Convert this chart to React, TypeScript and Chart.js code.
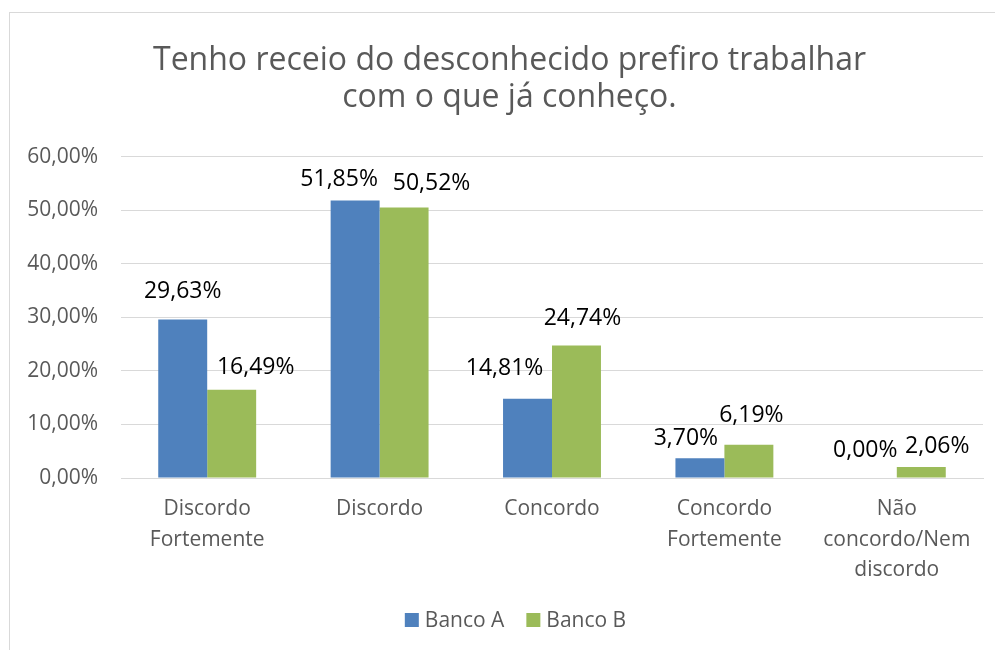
import { useEffect, useRef } from 'react';
import { Chart, registerables } from 'chart.js';

Chart.register(...registerables);

const titleLines = ['Tenho receio do desconhecido prefiro trabalhar', 'com o que já conheço.'];
const categories: (string | string[])[] = [
  ['Discordo', 'Fortemente'],
  'Discordo',
  'Concordo',
  ['Concordo', 'Fortemente'],
  ['Não', 'concordo/Nem', 'discordo'],
];
const seriesNames = ['Banco A', 'Banco B'];
const bancoA = [29.63, 51.85, 14.81, 3.7, 0.0];
const bancoB = [16.49, 50.52, 24.74, 6.19, 2.06];
const yMin = 0;
const yMax = 60;
const yStep = 10;

// label nudges (dx, dy) relative to bar top centre, as placed in the original
const labelNudgeA = [[0, -28], [-16, -21.5], [-23, -30], [-14, -20], [-7, -28]];
const labelNudgeB = [[24, -22], [27.5, -24.6], [6, -27], [2.5, -29], [16, -21]];

const FONT = '"Open Sans", "DejaVu Sans", sans-serif';
const fmtPct = (v: number) => v.toFixed(2).replace('.', ',') + '%';

const dataLabelsPlugin = {
  id: 'dataLabelsCustom',
  afterDatasetsDraw(chart: any) {
    const ctx = chart.ctx;
    const nudges = [labelNudgeA, labelNudgeB];
    ctx.save();
    ctx.font = `23px ${FONT}`;
    ctx.fillStyle = '#000000';
    ctx.textAlign = 'center';
    ctx.textBaseline = 'middle';
    chart.data.datasets.forEach((ds: any, di: number) => {
      const meta = chart.getDatasetMeta(di);
      meta.data.forEach((bar: any, i: number) => {
        const [dx, dy] = nudges[di][i];
        ctx.fillText(fmtPct(ds.data[i]), bar.x + dx, bar.y + dy);
      });
    });
    ctx.restore();
  },
};

const legendPlugin = {
  id: 'legendCustom',
  afterDraw(chart: any) {
    const ctx = chart.ctx;
    ctx.save();
    ctx.font = `21px ${FONT}`;
    ctx.textBaseline = 'middle';
    ctx.textAlign = 'left';
    const box = 14;
    const gap = 6;
    const between = 22;
    const items = chart.data.datasets.map((ds: any) => ({
      label: ds.label,
      color: ds.backgroundColor,
      w: ctx.measureText(ds.label).width,
    }));
    const total = items.reduce((s: number, it: any) => s + box + gap + it.w, 0) + between * (items.length - 1);
    let x = chart.width / 2 + 5.5 - total / 2;
    const y = chart.height - 30;
    items.forEach((it: any) => {
      ctx.fillStyle = it.color;
      ctx.fillRect(x, y - box / 2, box, box);
      ctx.fillStyle = '#595959';
      ctx.fillText(it.label, x + box + gap, y + 1);
      x += box + gap + it.w + between;
    });
    ctx.restore();
  },
};

export default function App() {
  const ref = useRef<HTMLCanvasElement | null>(null);

  useEffect(() => {
    if (!ref.current) return;
    const chart = new Chart(ref.current, {
      type: 'bar',
      data: {
        labels: categories,
        datasets: [
          {
            label: seriesNames[0],
            data: bancoA,
            backgroundColor: '#4F81BD',
            categoryPercentage: 0.568,
            barPercentage: 1,
          },
          {
            label: seriesNames[1],
            data: bancoB,
            backgroundColor: '#9BBB59',
            categoryPercentage: 0.568,
            barPercentage: 1,
          },
        ],
      },
      options: {
        responsive: false,
        animation: false,
        devicePixelRatio: 1,
        layout: { padding: { left: 10, right: 11, top: 0, bottom: 62 } },
        plugins: {
          legend: { display: false },
          tooltip: { enabled: false },
          title: {
            display: true,
            text: titleLines,
            color: '#595959',
            font: { family: FONT, size: 32, weight: 'normal', lineHeight: 1.17 },
            padding: { top: 29, bottom: 40 },
          },
        },
        scales: {
          x: {
            grid: { display: false, drawTicks: false },
            border: { display: true, color: '#d9d9d9' },
            ticks: {
              color: '#595959',
              font: { family: FONT, size: 21, lineHeight: 1.45 },
              padding: 16,
              maxRotation: 0,
              autoSkip: false,
            },
            afterFit(scale: any) {
              scale.height = 110;
            },
          },
          y: {
            min: yMin,
            max: yMax,
            grid: { color: '#d9d9d9', drawTicks: false, lineWidth: 1 },
            border: { display: false },
            ticks: {
              stepSize: yStep,
              color: '#595959',
              font: { family: FONT, size: 21 },
              padding: 23,
              callback: (v: any) => fmtPct(Number(v)),
            },
            afterFit(scale: any) {
              scale.width = 101;
            },
          },
          spacer: {
            type: 'linear',
            position: 'right',
            display: true,
            grid: { display: false, drawTicks: false },
            border: { display: false },
            ticks: { display: false },
            afterFit(scale: any) {
              scale.width = 16;
            },
          },
        },
      },
      plugins: [dataLabelsPlugin, legendPlugin],
    });
    return () => chart.destroy();
  }, []);

  return (
    <div
      style={{
        position: 'fixed',
        left: 0,
        top: 0,
        width: 995,
        height: 650,
        overflow: 'hidden',
        background: '#ffffff',
      }}
    >
      <div
        style={{
          position: 'absolute',
          left: 9,
          top: 12,
          width: 1020,
          height: 660,
          border: '1px solid #d9d9d9',
          boxSizing: 'border-box',
        }}
      />
      <canvas
        ref={ref}
        width={1000}
        height={637}
        style={{ position: 'absolute', left: 10, top: 13, width: 1000, height: 637 }}
      />
    </div>
  );
}
